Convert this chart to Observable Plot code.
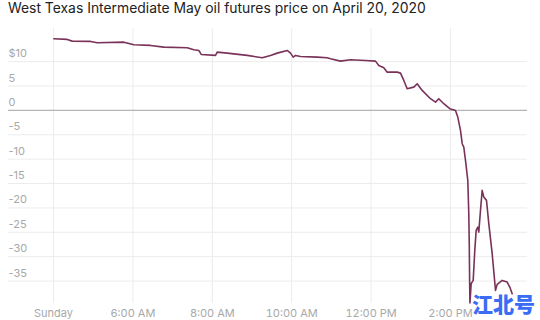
<!DOCTYPE html>
<html>
<head>
<meta charset="utf-8">
<script src="https://cdn.jsdelivr.net/npm/d3@7"></script>
<script src="https://cdn.jsdelivr.net/npm/@observablehq/plot@0.6"></script>
<style>
  html, body { margin: 0; padding: 0; background: #fff; }
  #wrap { position: relative; width: 540px; height: 320px; overflow: hidden; }
  #title { height: 22px; padding-left: 8px; font-family: Inter, "Open Sans", sans-serif; font-size: 13.9px; line-height: 16px; color: #222; white-space: nowrap; }
  #wm { position: absolute; left: 472px; top: 288px; font-family: "Noto Sans CJK SC", sans-serif; font-weight: 900; font-size: 21px; color: #3a6cf4; }
</style>
</head>
<body>
<div id="wrap">
  <div id="title">West Texas Intermediate May oil futures price on April 20, 2020</div>
  <div id="chart"></div>
  <div id="wm">江北号</div>
</div>
<script>
// hours of the trading session (numeric, Sunday tick at 4)
const hours = [4.008,4.345,4.471,4.932,5.101,5.771,6.023,6.443,6.778,7.368,7.534,7.660,7.720,8.081,8.123,8.375,8.879,9.257,9.466,9.635,9.887,9.970,10.038,10.096,10.222,10.642,10.894,10.977,11.229,11.481,11.859,12.111,12.194,12.320,12.406,12.657,12.741,12.824,12.909,13.076,13.161,13.287,13.496,13.622,13.705,13.831,13.982,14.126,14.184,14.252,14.295,14.335,14.378,14.436,14.461,14.474,14.482,14.490,14.521,14.572,14.612,14.647,14.688,14.713,14.756,14.798,14.839,14.907,14.965,15.050,15.134,15.176,15.302,15.428,15.494,15.554];
const prices = [14.70,14.56,14.21,14.15,13.88,14.00,13.47,13.33,12.98,12.86,12.45,12.30,11.48,11.28,11.95,11.75,11.28,10.81,11.28,11.75,12.30,11.75,10.93,11.28,11.07,10.93,10.81,10.60,10.11,10.40,10.25,10.11,9.23,8.76,7.85,7.85,7.65,6.15,4.45,4.78,5.47,4.10,2.40,1.70,2.40,1.37,0.35,0,-1.37,-4.10,-6.83,-7.53,-10.25,-14.35,-21.18,-28.03,-34.86,-39.51,-35.53,-34.86,-28.71,-24.61,-23.93,-24.95,-20.50,-16.40,-17.78,-18.45,-23.23,-29.38,-36.91,-35.68,-34.86,-35.21,-36.23,-37.58];
const xTicks = [4, 6, 8, 10, 12, 14];
const xTickLabels = ["Sunday", "6:00 AM", "8:00 AM", "10:00 AM", "12:00 PM", "2:00 PM"];
const yTicks = [10, 5, 0, -5, -10, -15, -20, -25, -30, -35];
const yTickLabels = ["$10", "5", "0", "-5", "-10", "-15", "-20", "-25", "-30", "-35"];

const data = hours.map((h, i) => ({h, p: prices[i]}));
const gridY = yTicks.filter(d => d !== 0);

const chart = Plot.plot({
  width: 540,
  height: 298,
  marginLeft: 8,
  marginRight: 13,
  marginTop: 6,
  marginBottom: 17,
  style: {fontFamily: "Inter, 'Open Sans', sans-serif", fontSize: "11px", background: "#fff"},
  x: {domain: [2.866, 15.94]},
  y: {domain: [-39.6, 16.8]},
  marks: [
    Plot.ruleX(xTicks, {x: d => d, stroke: "#ececec", strokeWidth: 1}),
    Plot.ruleY(gridY, {y: d => d, stroke: "#ececec", strokeWidth: 1}),
    Plot.ruleY([0], {stroke: "#b5b5b5", strokeWidth: 1.2}),
    Plot.text(yTicks, {y: d => d, text: (d, i) => yTickLabels[i], frameAnchor: "left", textAnchor: "start", dy: -8, fill: "#a8a8a8", fontSize: 11}),
    Plot.axisX({ticks: xTicks, tickFormat: d => xTickLabels[xTicks.indexOf(d)], tickSize: 0, tickPadding: 6, color: "#a8a8a8", fontSize: 11, label: null}),
    Plot.axisY({ticks: [], label: null}),
    Plot.line(data, {x: "h", y: "p", stroke: "#7a3259", strokeWidth: 1.6, curve: "linear"})
  ]
});
document.getElementById("chart").appendChild(chart);
</script>
</body>
</html>
